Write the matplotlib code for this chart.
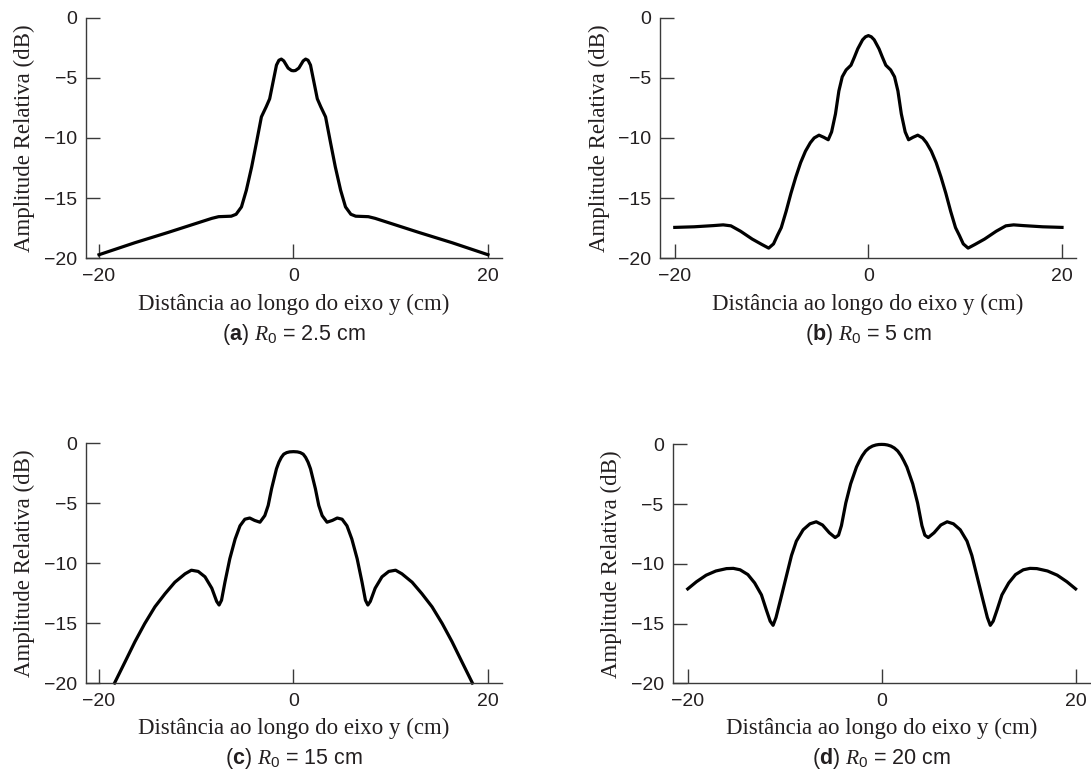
import matplotlib
matplotlib.use('Agg')
import matplotlib.pyplot as plt
import matplotlib.transforms as mtransforms

plt.rcParams.update({
    'font.family': 'Liberation Sans',
    'mathtext.fontset': 'custom',
    'mathtext.rm': 'Liberation Sans',
    'mathtext.it': 'Liberation Serif:italic',
    'mathtext.bf': 'Liberation Sans:bold',
})

# --- data (x in cm, y in dB) ---
x_a = [-20, -16.3, -12.9, -8.4, -7.7, -6.4, -5.9, -5.35, -4.85, -4.3, -3.8, -3.3, -2.8, -2.45,
       -2.1, -1.75, -1.5, -1.25, -1.0, -0.55, -0.2, 0,
       0.2, 0.55, 1.0, 1.25, 1.5, 1.75, 2.1, 2.45, 2.8, 3.3, 3.8, 4.3, 4.85, 5.35, 5.9, 6.4,
       7.7, 8.4, 12.9, 16.3, 20]
y_a = [-19.7, -18.7, -17.85, -16.68, -16.54, -16.5, -16.34, -15.73, -14.35, -12.4, -10.35, -8.25,
       -7.4, -6.75, -5.35, -3.95, -3.55, -3.45, -3.6, -4.2, -4.4, -4.42,
       -4.4, -4.2, -3.6, -3.45, -3.55, -3.95, -5.35, -6.75, -7.4, -8.25, -10.35, -12.4, -14.35,
       -15.73, -16.34, -16.5, -16.54, -16.68, -17.85, -18.7, -19.7]

x_b = [-20, -18, -16, -15, -14.2, -13.2, -12, -11, -10.3, -9.8, -9.4, -9.0, -8.5, -8.0, -7.5,
       -7.0, -6.5, -6.0, -5.6, -5.1, -4.6, -4.15, -3.8, -3.4, -3.05, -2.7, -2.3, -1.8, -1.45,
       -1.1, -0.6, -0.3, 0,
       0.3, 0.6, 1.1, 1.45, 1.8, 2.3, 2.7, 3.05, 3.4, 3.8, 4.15, 4.6, 5.1, 5.6, 6.0, 6.5, 7.0,
       7.5, 8.0, 8.5, 9.0, 9.4, 9.8, 10.3, 11, 12, 13.2, 14.2, 15, 16, 18, 20]
y_b = [-17.43, -17.38, -17.28, -17.22, -17.3, -17.75, -18.4, -18.85, -19.15, -18.8, -18.1,
       -17.45, -16.1, -14.6, -13.25, -12.05, -11.1, -10.4, -10.0, -9.77, -9.95, -10.15, -9.5,
       -8.0, -6.1, -4.92, -4.35, -3.96, -3.3, -2.6, -1.85, -1.6, -1.5,
       -1.6, -1.85, -2.6, -3.3, -3.96, -4.35, -4.92, -6.1, -8.0, -9.5, -10.15, -9.95, -9.77,
       -10.0, -10.4, -11.1, -12.05, -13.25, -14.6, -16.1, -17.45, -18.1, -18.8, -19.15, -18.85,
       -18.4, -17.75, -17.3, -17.22, -17.28, -17.38, -17.43]

x_c = [-18.4, -17.3, -16.3, -15.3, -14.25, -13.2, -12.2, -11.15, -10.5, -9.8, -9.1, -8.4, -7.9,
       -7.65, -7.4, -7.05, -6.55, -6.0, -5.5, -5.0, -4.5, -4.0, -3.45, -2.95, -2.6, -2.25,
       -1.75, -1.5, -1.25, -1.0, -0.7, -0.4, 0,
       0.4, 0.7, 1.0, 1.25, 1.5, 1.75, 2.25, 2.6, 2.95, 3.45, 4.0, 4.5, 5.0, 5.5, 6.0, 6.55,
       7.05, 7.4, 7.65, 7.9, 8.4, 9.1, 9.8, 10.5, 11.15, 12.2, 13.2, 14.25, 15.3, 16.3, 17.3,
       18.4]
y_c = [-20.0, -18.2, -16.55, -15.05, -13.65, -12.55, -11.6, -10.9, -10.6, -10.7, -11.15, -12.1,
       -13.2, -13.5, -13.1, -11.6, -9.65, -8.0, -6.9, -6.35, -6.25, -6.45, -6.6, -6.05, -5.2,
       -3.8, -2.15, -1.6, -1.2, -0.93, -0.8, -0.74, -0.72,
       -0.74, -0.8, -0.93, -1.2, -1.6, -2.15, -3.8, -5.2, -6.05, -6.6, -6.45, -6.25, -6.35,
       -6.9, -8.0, -9.65, -11.6, -13.1, -13.5, -13.2, -12.1, -11.15, -10.7, -10.6, -10.9,
       -11.6, -12.55, -13.65, -15.05, -16.55, -18.2, -20.0]

x_d = [-20, -19.1, -18.1, -17.1, -16.0, -15.3, -14.6, -13.8, -13.1, -12.4, -11.9, -11.5, -11.2,
       -10.9, -10.4, -9.85, -9.3, -8.8, -8.1, -7.4, -6.75, -6.1, -5.4, -4.8, -4.45, -4.15, -3.7,
       -3.2, -2.6, -2.3, -2.0, -1.65, -1.3, -0.95, -0.6, -0.3, 0,
       0.3, 0.6, 0.95, 1.3, 1.65, 2.0, 2.3, 2.6, 3.2, 3.7, 4.15, 4.45, 4.8, 5.4, 6.1, 6.75,
       7.4, 8.1, 8.8, 9.3, 9.85, 10.4, 10.9, 11.2, 11.5, 11.9, 12.4, 13.1, 13.8, 14.6, 15.3,
       16.0, 17.1, 18.1, 19.1, 20]
y_d = [-12.1, -11.5, -10.95, -10.6, -10.4, -10.38, -10.5, -10.9, -11.6, -12.6, -13.85, -14.8,
       -15.15, -14.5, -12.9, -11.1, -9.3, -8.1, -7.15, -6.65, -6.48, -6.75, -7.4, -7.8, -7.6,
       -6.8, -4.9, -3.3, -1.9, -1.4, -0.95, -0.55, -0.3, -0.14, -0.05, -0.01, 0.0,
       -0.01, -0.05, -0.14, -0.3, -0.55, -0.95, -1.4, -1.9, -3.3, -4.9, -6.8, -7.6, -7.8, -7.4,
       -6.75, -6.48, -6.65, -7.15, -8.1, -9.3, -11.1, -12.9, -14.5, -15.15, -14.8, -13.85,
       -12.6, -11.6, -10.9, -10.5, -10.38, -10.4, -10.6, -10.95, -11.5, -12.1]

letters = ['a', 'b', 'c', 'd']
r0_labels = ['2.5', '5', '15', '20']
y_ticks = [0, -5, -10, -15, -20]
x_ticks = [-20, 0, 20]

# axes placement in figure fractions (left, bottom, width, height) and x-limits
positions = [
    (0.0788, 0.6658, 0.3813, 0.3115),
    (0.6050, 0.6658, 0.3813, 0.3115),
    (0.0788, 0.1164, 0.3813, 0.3105),
    (0.6166, 0.1161, 0.3822, 0.3090),
]
xlims = [(-21.34, 21.44), (-21.52, 21.45), (-21.34, 21.44), (-21.55, 21.45)]

ink = '#231f20'
axis_grey = '#3a3a3a'

fig = plt.figure(figsize=(10.91, 7.73), dpi=100)

series = [(x_a, y_a), (x_b, y_b), (x_c, y_c), (x_d, y_d)]
for i, (xs, ys) in enumerate(series):
    ax = fig.add_axes(positions[i])
    ax.plot(xs, ys, color='black', lw=2.3, solid_joinstyle='round', clip_on=False)
    ax.set_xlim(*xlims[i])
    ax.set_ylim(-20, 0)
    ax.spines['top'].set_visible(False)
    ax.spines['right'].set_visible(False)
    for side in ('left', 'bottom'):
        ax.spines[side].set_color(axis_grey)
        ax.spines[side].set_linewidth(1.0)
    ax.set_xticks(x_ticks)
    ax.set_yticks(y_ticks)
    ax.tick_params(direction='in', length=10, width=1.0, color=axis_grey,
                   labelsize=14, labelcolor=ink)
    ax.tick_params(axis='x', pad=7)
    ax.tick_params(axis='y', pad=6.5)
    ax.set_xlabel('Distância ao longo do eixo y (cm)', family='Liberation Serif',
                  fontsize=16.5, color=ink, labelpad=6)
    ax.set_ylabel('Amplitude Relativa (dB)', family='Liberation Serif',
                  fontsize=16.5, color=ink, labelpad=6)
    trans = mtransforms.blended_transform_factory(ax.transData, ax.transAxes)
    caption = r'($\mathbf{%s}$) $R_0$ = %s cm' % (letters[i], r0_labels[i])
    ax.text(0, -0.315, caption, transform=trans, ha='center', va='center',
            fontsize=15.5, color=ink)

fig.savefig('out.png', dpi=100)
